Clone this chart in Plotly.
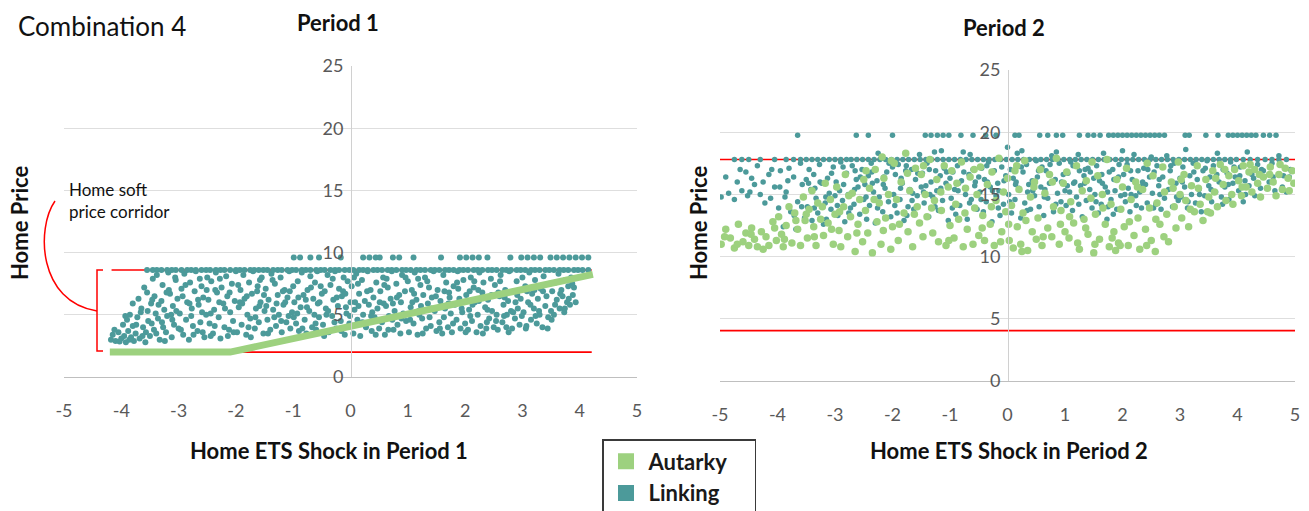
import plotly.graph_objects as go

W, H = 1309, 511

# ---------------- data ----------------
shock_ticks = [-5, -4, -3, -2, -1, 0, 1, 2, 3, 4, 5]
shock_tick_labels = ["-5", "-4", "-3", "-2", "-1", "0", "1", "2", "3", "4", "5"]
price_ticks = [0, 5, 10, 15, 20, 25]

# soft price corridor bounds
p1_corridor = [2.0, 8.6]
p1_corridor_x = [-4.17, 4.21]
p2_corridor = [4.05, 17.8]
p2_corridor_x = [-5.0, 5.0]

# Period 1 autarky price path (floor, then rising with the shock)
p1_autarky_x = [-4.2, -2.1, 4.23]
p1_autarky_y = [2.0, 2.0, 8.25]

# Period 1 linking: scattered outcomes
p1_linking_cloud = [
    (-4.18, 3.0), (-4.15, 3.4), (-4.1, 2.9), (-4.05, 3.6), (-4.0, 3.1), (-3.97, 4.2), (-3.95, 3.3),
    (-3.92, 2.8), (-3.9, 4.6), (-3.88, 3.7), (-3.85, 5.0), (-3.83, 3.2), (-3.8, 4.1), (-3.8, 5.9),
    (-3.78, 2.9), (-3.75, 3.5), (-3.72, 4.8), (-3.7, 6.3), (-3.68, 3.1), (-3.65, 5.5), (-3.62, 4.0),
    (-3.6, 7.2), (-3.58, 2.8), (-3.55, 6.8), (-3.53, 4.5), (-3.5, 3.3), (-3.48, 5.9), (-3.45, 7.9),
    (-3.43, 3.8), (-3.4, 5.1), (-3.42, 6.5), (-3.47, 4.3), (-3.57, 3.6), (-3.66, 5.2),
    (-3.38, 8.2), (-3.36, 4.7), (-3.33, 3.0), (-3.3, 6.1), (-3.28, 7.4), (-3.25, 5.4), (-3.22, 3.6),
    (-3.2, 4.9), (-3.18, 8.4), (-3.15, 6.7), (-3.12, 3.2), (-3.1, 5.7), (-3.08, 4.2), (-3.05, 7.8),
    (-3.02, 6.3), (-3.0, 3.9), (-3.27, 4.0), (-3.13, 5.0), (-3.35, 5.8), (-3.06, 8.0), (-3.17, 7.0),
    (-3.24, 2.9),
    (-2.98, 5.1), (-2.95, 7.1), (-2.92, 3.4), (-2.9, 8.3), (-2.87, 4.6), (-2.85, 6.0), (-2.82, 3.0),
    (-2.8, 7.6), (-2.77, 5.5), (-2.75, 4.1), (-2.72, 6.9), (-2.7, 8.5), (-2.67, 3.7), (-2.65, 5.8),
    (-2.62, 4.4), (-2.6, 7.3), (-2.57, 6.4), (-2.55, 3.2), (-2.52, 5.0), (-2.5, 8.0), (-2.93, 6.5),
    (-2.78, 4.9), (-2.63, 7.9), (-2.58, 3.6),
    (-2.48, 6.2), (-2.46, 4.3), (-2.43, 7.7), (-2.4, 3.5), (-2.38, 5.4), (-2.35, 8.4), (-2.33, 6.8),
    (-2.3, 4.8), (-2.27, 3.1), (-2.25, 7.2), (-2.22, 5.9), (-2.2, 4.0), (-2.17, 8.1), (-2.15, 6.5),
    (-2.12, 3.8), (-2.1, 5.2), (-2.07, 7.5), (-2.05, 4.5), (-2.02, 6.1), (-2.0, 8.5), (-2.44, 5.1),
    (-2.29, 6.0), (-2.14, 3.3), (-2.36, 7.0),
    (-1.98, 3.6), (-1.95, 5.6), (-1.92, 7.0), (-1.9, 4.2), (-1.87, 8.2), (-1.85, 6.3), (-1.82, 3.4),
    (-1.8, 5.0), (-1.77, 7.6), (-1.75, 4.7), (-1.72, 6.7), (-1.7, 8.5), (-1.67, 3.9), (-1.65, 5.5),
    (-1.62, 7.3), (-1.6, 4.4), (-1.57, 6.0), (-1.55, 8.0), (-1.52, 3.5), (-1.5, 5.3), (-1.93, 6.0),
    (-1.78, 4.0), (-1.63, 6.9), (-1.58, 7.8),
    (-1.48, 7.1), (-1.45, 4.6), (-1.43, 6.2), (-1.4, 3.8), (-1.38, 8.3), (-1.35, 5.4), (-1.32, 7.5),
    (-1.3, 4.1), (-1.27, 6.6), (-1.25, 5.0), (-1.22, 8.0), (-1.2, 3.6), (-1.17, 5.8), (-1.15, 7.0),
    (-1.12, 4.4), (-1.1, 6.4), (-1.07, 8.5), (-1.05, 3.9), (-1.02, 5.2), (-1.0, 7.3), (-1.47, 5.7),
    (-1.33, 4.8), (-1.18, 6.9), (-1.08, 4.9),
    (-0.98, 6.0), (-0.95, 4.3), (-0.92, 7.7), (-0.9, 3.7), (-0.87, 5.6), (-0.85, 8.4), (-0.82, 6.6),
    (-0.8, 4.6), (-0.77, 3.5), (-0.75, 7.0), (-0.72, 5.3), (-0.7, 8.1), (-0.67, 4.0), (-0.65, 6.3),
    (-0.62, 7.6), (-0.6, 3.8), (-0.57, 5.9), (-0.55, 4.8), (-0.52, 7.3), (-0.5, 6.7), (-0.93, 5.1),
    (-0.78, 6.2), (-0.63, 5.0), (-0.58, 8.5),
    (-0.48, 4.2), (-0.45, 6.9), (-0.43, 5.5), (-0.4, 8.2), (-0.38, 3.6), (-0.35, 7.4), (-0.32, 4.9),
    (-0.3, 6.2), (-0.27, 8.5), (-0.25, 3.9), (-0.22, 5.7), (-0.2, 7.1), (-0.17, 4.5), (-0.15, 6.5),
    (-0.12, 8.0), (-0.1, 3.4), (-0.07, 5.1), (-0.05, 7.7), (-0.02, 4.3), (0.0, 6.0), (-0.42, 5.0),
    (-0.28, 4.4), (-0.13, 6.9), (-0.08, 5.6),
    (0.02, 7.3), (0.05, 3.5), (0.07, 5.4), (0.1, 8.3), (0.12, 4.6), (0.15, 6.7), (0.17, 3.3),
    (0.2, 7.8), (0.22, 5.0), (0.25, 6.1), (0.27, 4.0), (0.3, 8.5), (0.32, 5.8), (0.35, 7.0),
    (0.37, 3.7), (0.4, 6.4), (0.42, 4.8), (0.45, 7.6), (0.47, 5.5), (0.5, 3.9), (0.08, 6.0),
    (0.23, 4.3), (0.38, 5.2), (0.13, 7.5),
    (0.52, 6.9), (0.55, 4.4), (0.57, 8.0), (0.6, 3.4), (0.62, 5.7), (0.65, 7.2), (0.67, 4.9),
    (0.7, 6.3), (0.72, 8.5), (0.75, 3.8), (0.77, 5.3), (0.8, 7.5), (0.82, 4.2), (0.85, 6.6),
    (0.87, 3.5), (0.9, 8.2), (0.92, 5.1), (0.95, 6.9), (0.97, 4.5), (1.0, 7.7), (0.58, 5.9),
    (0.73, 4.6), (0.88, 6.0), (0.63, 7.9),
    (1.02, 3.6), (1.05, 5.6), (1.07, 7.0), (1.1, 4.3), (1.12, 8.4), (1.15, 6.2), (1.17, 3.4),
    (1.2, 5.0), (1.22, 7.4), (1.25, 4.7), (1.27, 6.6), (1.3, 8.0), (1.32, 3.9), (1.35, 5.9),
    (1.37, 7.2), (1.4, 4.1), (1.42, 6.4), (1.45, 8.5), (1.47, 5.3), (1.5, 3.7), (1.08, 6.0),
    (1.23, 5.7), (1.38, 4.8), (1.18, 7.9),
    (1.52, 7.0), (1.55, 4.4), (1.57, 6.1), (1.6, 3.5), (1.62, 8.2), (1.65, 5.5), (1.67, 7.6),
    (1.7, 4.0), (1.72, 6.8), (1.75, 5.1), (1.77, 3.6), (1.8, 7.3), (1.82, 5.8), (1.85, 4.6),
    (1.87, 8.5), (1.9, 6.3), (1.92, 3.9), (1.95, 5.2), (1.97, 7.8), (2.0, 4.3), (1.58, 5.7),
    (1.73, 6.4), (1.88, 7.1), (1.63, 4.8),
    (2.02, 6.6), (2.05, 3.8), (2.07, 5.4), (2.1, 8.0), (2.12, 4.5), (2.15, 7.2), (2.17, 6.0),
    (2.2, 3.6), (2.22, 5.0), (2.25, 8.4), (2.27, 4.1), (2.3, 6.8), (2.32, 7.6), (2.35, 5.6),
    (2.37, 3.9), (2.4, 6.2), (2.42, 4.7), (2.45, 7.9), (2.47, 5.3), (2.5, 4.0), (2.08, 6.9),
    (2.23, 7.0), (2.38, 4.4), (2.13, 5.8),
    (2.52, 7.4), (2.55, 5.0), (2.57, 3.8), (2.6, 6.5), (2.62, 8.2), (2.65, 4.4), (2.67, 5.8),
    (2.7, 7.0), (2.72, 4.0), (2.75, 6.1), (2.77, 8.5), (2.8, 5.3), (2.82, 3.9), (2.85, 6.9),
    (2.87, 4.7), (2.9, 7.7), (2.92, 5.5), (2.95, 4.2), (2.97, 6.3), (3.0, 8.0), (2.58, 6.8),
    (2.73, 5.0), (2.88, 6.0), (2.68, 4.9),
    (3.02, 5.2), (3.05, 7.3), (3.07, 4.1), (3.1, 6.0), (3.12, 8.4), (3.15, 4.6), (3.17, 6.7),
    (3.2, 5.5), (3.22, 7.8), (3.25, 4.3), (3.27, 6.3), (3.3, 5.0), (3.32, 7.1), (3.35, 4.0),
    (3.37, 8.1), (3.4, 5.7), (3.42, 6.5), (3.45, 4.8), (3.47, 7.5), (3.5, 5.3), (3.08, 6.9),
    (3.23, 4.9),
    (3.52, 6.9), (3.55, 5.0), (3.58, 7.6), (3.6, 6.2), (3.63, 8.3), (3.65, 5.5), (3.68, 7.0),
    (3.7, 6.5), (3.73, 5.2), (3.75, 7.8), (3.78, 6.0), (3.8, 7.3), (3.83, 5.8), (3.85, 8.0),
    (3.88, 6.6), (3.9, 7.2),
    # second pass over the cloud
    (-4.12, 3.8), (-4.03, 2.85), (-3.93, 4.9), (-3.86, 3.0), (-3.74, 4.2), (-3.63, 3.3),
    (-3.54, 5.3), (-3.46, 6.2), (-3.39, 3.5), (-3.29, 4.4), (-3.21, 6.8), (-3.11, 4.6),
    (-3.04, 5.3), (-2.96, 3.8), (-2.88, 7.4), (-2.81, 5.9), (-2.74, 3.4), (-2.66, 6.2),
    (-2.59, 5.2), (-2.51, 7.0), (-2.44, 3.3), (-2.37, 4.1), (-2.28, 7.9), (-2.19, 5.5),
    (-2.11, 6.8), (-2.04, 3.6), (-1.96, 7.4), (-1.89, 5.9), (-1.81, 6.5), (-1.74, 3.2),
    (-1.66, 4.8), (-1.59, 5.7), (-1.51, 6.6), (-1.44, 3.5), (-1.36, 7.8), (-1.29, 5.9),
    (-1.21, 4.5), (-1.14, 6.0), (-1.06, 6.9), (-0.99, 4.8), (-0.91, 6.4), (-0.84, 3.9),
    (-0.76, 5.6), (-0.69, 7.2), (-0.61, 4.3), (-0.54, 6.0), (-0.46, 3.3), (-0.39, 5.3),
    (-0.31, 7.9), (-0.24, 6.4), (-0.16, 3.7), (-0.09, 6.7), (-0.01, 4.9), (0.06, 8.0),
    (0.14, 5.7), (0.21, 4.4), (0.29, 6.9), (0.36, 4.9), (0.44, 3.4), (0.51, 6.0),
    (0.59, 7.4), (0.66, 3.8), (0.74, 5.9), (0.81, 6.4), (0.89, 4.7), (0.96, 8.0),
    (1.04, 4.6), (1.11, 6.7), (1.19, 5.3), (1.26, 3.5), (1.34, 7.7), (1.41, 5.5),
    (1.49, 6.5), (1.56, 3.9), (1.64, 6.9), (1.71, 5.9), (1.79, 4.3), (1.86, 7.6),
    (1.94, 5.5), (2.01, 3.6), (2.09, 4.9), (2.16, 7.7), (2.24, 6.1), (2.31, 3.5),
    (2.39, 5.4), (2.46, 6.6), (2.54, 4.5), (2.61, 7.7), (2.69, 6.4), (2.76, 3.6),
    (2.84, 5.2), (2.91, 6.6), (2.99, 4.9), (3.06, 3.9), (3.14, 5.8), (3.21, 7.0),
    (3.29, 5.3), (3.36, 6.9), (3.44, 3.9), (3.51, 4.6), (3.57, 5.8), (3.66, 6.7),
    (3.74, 5.5), (3.81, 6.3), (3.87, 7.5), (3.93, 6.0),
]
# Period 1 linking outcomes sitting on the corridor ceiling and just above it
p1_linking_cap_price = 8.6
p1_linking_cap_x = [
    -3.55, -3.45, -3.38, -3.3, -3.2, -3.12, -3.05, -2.95, -2.85, -2.78, -2.7, -2.6, -2.52, -2.45,
    -2.35, -2.27, -2.2, -2.1, -2.0, -1.93, -1.85, -1.75, -1.68, -1.6, -1.52, -1.45, -1.35, -1.27,
    -1.2, -1.1, -1.02, -0.95, -0.85, -0.78, -0.7, -0.6, -0.52, -0.45, -0.35, -0.27, -0.2, -0.1,
    -0.02, 0.05, 0.15, 0.22, 0.3, 0.4, 0.47, 0.55, 0.65, 0.72, 0.8, 0.9, 0.97, 1.05, 1.15, 1.22,
    1.3, 1.4, 1.47, 1.55, 1.65, 1.72, 1.8, 1.9, 1.97, 2.05, 2.15, 2.22, 2.3, 2.4, 2.47, 2.55,
    2.65, 2.72, 2.8, 2.9, 2.97, 3.05, 3.15, 3.22, 3.3, 3.4, 3.47, 3.55, 3.65, 3.72, 3.8, 3.9,
    3.97, 4.05, 4.15,
]
p1_linking_top_price = 9.6
p1_linking_top_x = [
    -0.99, -0.88, -0.70, -0.55, -0.17, 0.22, 0.33, 0.44, 0.51, 0.74, 0.85, 1.10, 1.58, 1.91,
    2.02, 2.13, 2.24, 2.39, 2.79, 2.98, 3.09, 3.2, 3.31, 3.49, 3.6, 3.71, 3.82, 3.93, 4.04, 4.15,
]

# Period 2 linking
p2_linking_cloud = [
    (-4.98, 14.8), (-4.85, 15.1), (-4.75, 14.6), (-4.7, 16.0), (-4.62, 15.3), (-4.55, 16.8),
    (-4.52, 14.9), (-4.45, 16.3), (-4.4, 15.8), (-4.35, 17.3), (-4.3, 15.0), (-4.22, 14.3),
    (-4.15, 16.6), (-4.1, 17.0), (-4.05, 15.6),
    (-3.98, 13.9), (-3.95, 16.9), (-3.9, 12.4), (-3.85, 15.2), (-3.8, 17.1), (-3.77, 13.6),
    (-3.72, 16.4), (-3.68, 12.2), (-3.65, 14.4), (-3.6, 17.5), (-3.57, 15.8), (-3.53, 13.1),
    (-3.5, 16.2), (-3.87, 14.8),
    (-3.48, 14.0), (-3.45, 17.0), (-3.42, 15.4), (-3.4, 12.9), (-3.37, 16.6), (-3.33, 14.7),
    (-3.3, 13.5), (-3.27, 17.4), (-3.23, 15.9), (-3.2, 12.6), (-3.17, 14.3), (-3.13, 16.3),
    (-3.1, 15.1), (-3.07, 13.8), (-3.03, 17.2), (-3.0, 14.9), (-3.35, 15.5), (-3.15, 13.0),
    (-2.98, 16.0), (-2.95, 13.3), (-2.92, 15.3), (-2.9, 17.6), (-2.87, 14.5), (-2.83, 12.8),
    (-2.8, 16.7), (-2.77, 15.0), (-2.73, 13.9), (-2.7, 17.3), (-2.67, 14.2), (-2.63, 16.2),
    (-2.6, 15.6), (-2.57, 13.4), (-2.53, 17.0), (-2.5, 14.6), (-2.85, 15.8), (-2.65, 16.9),
    (-2.48, 15.8), (-2.45, 13.0), (-2.42, 16.5), (-2.4, 14.1), (-2.37, 17.5), (-2.33, 15.2),
    (-2.3, 12.7), (-2.27, 16.1), (-2.23, 14.8), (-2.2, 17.9), (-2.17, 13.6), (-2.13, 15.5),
    (-2.1, 16.8), (-2.07, 14.4), (-2.03, 13.2), (-2.0, 17.2), (-2.35, 15.9), (-2.15, 16.4),
    (-2.25, 18.3),
    (-1.98, 15.0), (-1.95, 16.6), (-1.92, 13.5), (-1.9, 17.4), (-1.87, 14.6), (-1.83, 15.9),
    (-1.8, 12.9), (-1.77, 16.9), (-1.73, 14.0), (-1.7, 15.4), (-1.67, 17.0), (-1.63, 13.8),
    (-1.6, 16.2), (-1.57, 14.9), (-1.53, 18.2), (-1.5, 15.6), (-1.85, 16.3), (-1.65, 15.1),
    (-1.75, 13.3),
    (-1.48, 16.7), (-1.45, 14.3), (-1.42, 15.7), (-1.4, 17.5), (-1.37, 13.2), (-1.33, 16.0),
    (-1.3, 14.8), (-1.27, 18.4), (-1.23, 15.3), (-1.2, 13.7), (-1.17, 16.5), (-1.13, 14.5),
    (-1.1, 17.1), (-1.07, 15.9), (-1.03, 12.9), (-1.0, 16.3), (-1.35, 15.0), (-1.15, 18.5),
    (-1.25, 16.9),
    (-0.98, 14.7), (-0.95, 16.8), (-0.92, 15.4), (-0.9, 13.4), (-0.87, 17.3), (-0.83, 14.1),
    (-0.8, 16.1), (-0.77, 18.4), (-0.73, 15.0), (-0.7, 13.0), (-0.67, 16.6), (-0.63, 14.6),
    (-0.6, 17.0), (-0.57, 15.7), (-0.53, 13.8), (-0.5, 16.4), (-0.85, 15.9), (-0.65, 18.2),
    (-0.48, 15.2), (-0.45, 17.1), (-0.42, 13.6), (-0.4, 16.2), (-0.37, 14.4), (-0.33, 17.6),
    (-0.3, 15.6), (-0.27, 12.8), (-0.23, 16.9), (-0.2, 14.9), (-0.17, 15.9), (-0.13, 13.3),
    (-0.1, 17.2), (-0.07, 14.2), (-0.03, 16.5), (0.0, 18.8), (-0.35, 16.0), (-0.15, 15.3),
    (0.02, 15.0), (0.05, 17.0), (0.07, 13.5), (0.1, 16.3), (0.13, 14.6), (0.17, 18.3),
    (0.2, 15.5), (0.23, 13.1), (0.27, 16.8), (0.3, 14.3), (0.33, 17.4), (0.37, 15.8),
    (0.4, 13.8), (0.43, 16.1), (0.47, 14.9), (0.5, 17.7), (0.15, 16.0), (0.35, 15.2),
    (0.25, 18.5),
    (0.52, 16.4), (0.55, 14.0), (0.58, 15.6), (0.6, 17.2), (0.63, 13.3), (0.67, 16.9),
    (0.7, 14.7), (0.73, 15.9), (0.77, 18.1), (0.8, 13.6), (0.83, 16.2), (0.87, 15.1),
    (0.9, 17.5), (0.93, 14.4), (0.97, 16.6), (1.0, 15.3), (0.65, 15.4), (0.85, 18.4),
    (1.02, 14.1), (1.05, 16.7), (1.08, 15.2), (1.1, 17.6), (1.13, 13.7), (1.17, 16.0),
    (1.2, 14.8), (1.23, 18.2), (1.27, 15.7), (1.3, 13.2), (1.33, 16.5), (1.37, 14.5),
    (1.4, 17.1), (1.43, 15.4), (1.47, 13.9), (1.5, 16.3), (1.15, 15.9), (1.35, 17.0),
    (1.25, 16.9),
    (1.52, 15.0), (1.55, 17.3), (1.58, 13.5), (1.6, 16.1), (1.63, 14.2), (1.67, 18.3),
    (1.7, 15.6), (1.73, 13.0), (1.77, 16.8), (1.8, 14.6), (1.83, 17.0), (1.87, 15.3),
    (1.9, 13.8), (1.93, 16.4), (1.97, 14.9), (2.0, 18.5), (1.65, 15.9), (1.85, 16.2),
    (1.75, 14.0),
    (2.02, 16.6), (2.05, 14.4), (2.08, 17.4), (2.1, 15.5), (2.13, 13.6), (2.17, 16.2),
    (2.2, 18.2), (2.23, 14.9), (2.27, 16.9), (2.3, 15.2), (2.33, 13.9), (2.37, 17.1),
    (2.4, 15.8), (2.43, 14.3), (2.47, 16.4), (2.5, 18.0), (2.15, 15.0), (2.35, 16.0),
    (2.52, 15.1), (2.55, 16.8), (2.58, 14.2), (2.6, 17.3), (2.63, 15.7), (2.67, 13.8),
    (2.7, 16.4), (2.73, 14.7), (2.77, 18.1), (2.8, 15.4), (2.83, 16.9), (2.87, 14.0),
    (2.9, 17.5), (2.93, 15.9), (2.97, 14.5), (3.0, 16.3), (2.65, 15.0), (2.85, 16.0),
    (3.02, 14.8), (3.05, 17.2), (3.08, 15.6), (3.1, 18.6), (3.13, 13.9), (3.17, 16.5),
    (3.2, 15.0), (3.23, 17.5), (3.27, 14.3), (3.3, 16.2), (3.33, 15.4), (3.37, 13.6),
    (3.4, 16.9), (3.43, 14.9), (3.47, 17.7), (3.5, 15.7),
    (3.52, 16.4), (3.55, 14.4), (3.58, 17.3), (3.62, 15.2), (3.65, 18.3), (3.68, 16.0),
    (3.72, 14.8), (3.75, 17.0), (3.78, 15.6), (3.82, 16.7), (3.85, 14.6), (3.88, 17.6),
    (3.92, 15.9), (3.96, 16.4),
    (4.02, 15.3), (4.05, 17.2), (4.1, 14.4), (4.13, 16.1), (4.17, 18.4), (4.2, 15.7),
    (4.25, 16.6), (4.3, 14.9), (4.35, 17.4), (4.4, 15.5), (4.45, 16.9),
    (4.55, 16.0), (4.6, 17.5), (4.65, 15.3), (4.72, 18.1), (4.8, 16.5), (4.85, 15.2),
    (4.92, 17.0),
    # second pass over the cloud
    (-4.9, 16.4), (-4.65, 17.0), (-4.48, 15.2), (-4.25, 16.0), (-4.12, 14.7), (-3.96, 15.6),
    (-3.82, 16.1), (-3.71, 13.3), (-3.58, 14.0), (-3.46, 15.9), (-3.36, 13.9), (-3.26, 16.0),
    (-3.16, 14.8), (-3.06, 16.7), (-2.96, 14.1), (-2.86, 17.2), (-2.76, 13.5), (-2.66, 15.4),
    (-2.56, 16.4), (-2.46, 14.8), (-2.36, 16.8), (-2.26, 13.9), (-2.16, 15.8), (-2.06, 17.5),
    (-1.96, 14.1), (-1.86, 15.5), (-1.76, 17.3), (-1.66, 14.5), (-1.56, 16.7), (-1.46, 15.2),
    (-1.36, 17.0), (-1.26, 14.0), (-1.16, 15.5), (-1.06, 16.8), (-0.96, 13.9), (-0.86, 15.3),
    (-0.76, 16.8), (-0.66, 14.3), (-0.56, 16.0), (-0.46, 14.6), (-0.36, 17.3), (-0.26, 15.3),
    (-0.16, 13.9), (-0.06, 16.1), (0.04, 14.4), (0.14, 15.8), (0.24, 17.2), (0.34, 13.7),
    (0.44, 15.3), (0.54, 16.9), (0.64, 14.8), (0.74, 17.4), (0.84, 14.2), (0.94, 16.0),
    (1.04, 15.7), (1.14, 17.3), (1.24, 14.2), (1.34, 15.9), (1.44, 16.8), (1.54, 14.4),
    (1.64, 16.6), (1.74, 15.2), (1.84, 13.4), (1.94, 17.4), (2.04, 15.0), (2.14, 16.9),
    (2.24, 14.1), (2.34, 15.7), (2.44, 17.0), (2.54, 13.9), (2.64, 16.2), (2.74, 15.2),
    (2.84, 17.3), (2.94, 14.8), (3.04, 16.0), (3.14, 14.4), (3.24, 16.8), (3.34, 15.0),
    (3.44, 17.1), (3.54, 15.4), (3.64, 16.6), (3.74, 14.2), (3.84, 15.8), (3.94, 17.2),
    (4.04, 16.5), (4.14, 15.0), (4.28, 16.3), (4.42, 17.0), (4.62, 16.4), (4.78, 15.6),
    (4.9, 16.4),
]
p2_linking_cap_price = 17.8
p2_linking_cap_x = [
    -4.75, -4.62, -4.5, -4.3, -4.05, -3.85, -3.72, -3.6, -3.5, -3.4, -3.3, -3.2, -3.1, -3.0,
    -2.9, -2.8, -2.72, -2.62, -2.52, -2.42, -2.32, -2.22, -2.12, -2.02, -1.92, -1.82, -1.72,
    -1.62, -1.52, -1.42, -1.32, -1.22, -1.12, -1.02, -0.92, -0.82, -0.72, -0.62, -0.52, -0.42,
    -0.32, -0.22, -0.12, -0.02, 0.08, 0.18, 0.28, 0.38, 0.48, 0.58, 0.68, 0.78, 0.88, 0.98,
    1.08, 1.18, 1.28, 1.38, 1.48, 1.58, 1.68, 1.78, 1.88, 1.98, 2.08, 2.18, 2.28, 2.38, 2.48,
    2.58, 2.68, 2.78, 2.88, 2.98, 3.08, 3.18, 3.28, 3.38, 3.48, 3.58, 3.68, 3.78, 3.88, 3.98,
    4.1, 4.22, 4.35, 4.48, 4.6, 4.72, 4.85,
]
p2_linking_top_price = 19.75
p2_linking_top_x = [
    -3.65, -2.63, -2.42, -2.0, -1.43, -1.33, -1.22, -1.12, -1.02, -0.81, -0.6, -0.38, -0.2,
    0.13, 0.2, 0.56, 0.7, 0.85, 0.96, 1.25, 1.4, 1.5, 1.61, 1.76, 1.84, 1.92, 2.0, 2.08, 2.16,
    2.24, 2.32, 2.4, 2.48, 2.56, 2.64, 2.73, 3.09, 3.16, 3.45, 3.66, 3.84, 3.92, 4.0, 4.08,
    4.16, 4.24, 4.32, 4.45, 4.56, 4.67,
]

# Period 2 autarky
p2_autarky_cloud = [
    (-4.98, 11.0), (-4.9, 12.2), (-4.82, 11.5), (-4.75, 10.7), (-4.68, 12.6), (-4.6, 11.2),
    (-4.55, 11.9), (-4.5, 10.9), (-4.45, 12.3), (-4.4, 11.4), (-4.35, 10.8), (-4.28, 12.0),
    (-4.2, 11.6), (-4.15, 10.9), (-4.08, 12.8), (-4.02, 11.3),
    (-3.98, 13.2), (-3.93, 11.8), (-3.9, 10.8), (-3.85, 12.5), (-3.8, 14.0), (-3.75, 11.1),
    (-3.7, 13.5), (-3.65, 12.2), (-3.6, 10.9), (-3.55, 14.8), (-3.52, 12.9),
    (-3.48, 11.5), (-3.45, 13.8), (-3.4, 15.3), (-3.37, 12.4), (-3.33, 10.9), (-3.3, 14.3),
    (-3.25, 13.0), (-3.2, 11.7), (-3.17, 15.9), (-3.12, 12.7), (-3.08, 14.6), (-3.03, 11.0),
    (-3.0, 13.4),
    (-2.97, 15.6), (-2.93, 12.1), (-2.9, 10.8), (-2.85, 14.0), (-2.82, 16.6), (-2.78, 11.6),
    (-2.73, 13.2), (-2.7, 15.1), (-2.65, 10.4), (-2.6, 12.6), (-2.57, 14.6), (-2.52, 11.2),
    (-2.5, 16.2),
    (-2.47, 13.7), (-2.43, 11.9), (-2.4, 15.5), (-2.35, 10.3), (-2.3, 17.0), (-2.27, 12.8),
    (-2.23, 14.3), (-2.2, 11.0), (-2.15, 16.3), (-2.12, 13.1), (-2.07, 15.0), (-2.03, 10.6),
    (-2.0, 12.4), (-2.18, 18.0),
    (-1.97, 17.5), (-1.93, 14.6), (-1.9, 11.3), (-1.85, 16.0), (-1.8, 13.5), (-1.77, 18.3),
    (-1.73, 12.0), (-1.7, 15.3), (-1.65, 10.8), (-1.6, 17.1), (-1.57, 14.0), (-1.53, 12.7),
    (-1.5, 16.6),
    (-1.47, 11.6), (-1.43, 15.0), (-1.4, 13.2), (-1.35, 17.8), (-1.3, 11.9), (-1.27, 14.5),
    (-1.23, 16.2), (-1.2, 11.2), (-1.15, 13.7), (-1.1, 17.3), (-1.07, 10.9), (-1.03, 15.6),
    (-1.0, 12.5),
    (-0.97, 16.9), (-0.93, 11.5), (-0.9, 14.2), (-0.85, 13.0), (-0.8, 17.6), (-0.77, 10.8),
    (-0.73, 15.5), (-0.7, 12.2), (-0.65, 16.4), (-0.6, 11.0), (-0.57, 13.9), (-0.53, 15.0),
    (-0.5, 11.7),
    (-0.47, 17.2), (-0.43, 13.3), (-0.4, 11.3), (-0.35, 15.8), (-0.3, 12.6), (-0.27, 16.8),
    (-0.23, 10.9), (-0.2, 14.5), (-0.15, 17.9), (-0.1, 12.0), (-0.07, 15.2), (-0.03, 13.6),
    (0.0, 16.3),
    (0.03, 11.3), (0.07, 14.1), (0.1, 10.7), (0.13, 16.9), (0.17, 12.4), (0.2, 15.4),
    (0.23, 11.0), (0.27, 13.5), (0.3, 17.7), (0.35, 10.5), (0.4, 14.8), (0.43, 12.0),
    (0.47, 16.0), (0.5, 11.4), (0.25, 10.4),
    (0.53, 13.1), (0.57, 17.0), (0.6, 10.9), (0.65, 15.1), (0.7, 12.3), (0.73, 16.6),
    (0.77, 11.6), (0.8, 14.0), (0.85, 17.9), (0.9, 11.0), (0.93, 13.7), (0.97, 15.9),
    (1.0, 12.0),
    (1.03, 16.8), (1.07, 11.5), (1.1, 14.4), (1.15, 12.7), (1.2, 17.3), (1.25, 10.6),
    (1.3, 15.3), (1.33, 13.0), (1.37, 16.1), (1.4, 11.8), (1.45, 14.7), (1.5, 10.3),
    (1.47, 17.6),
    (1.53, 13.4), (1.57, 16.5), (1.6, 11.4), (1.65, 15.0), (1.7, 12.6), (1.73, 17.8),
    (1.77, 10.8), (1.8, 14.2), (1.85, 12.0), (1.9, 16.2), (1.93, 11.1), (1.97, 13.8),
    (2.0, 15.6), (1.88, 10.5),
    (2.03, 12.4), (2.07, 17.1), (2.1, 10.9), (2.15, 14.6), (2.2, 11.7), (2.23, 16.0),
    (2.27, 13.1), (2.3, 10.6), (2.35, 15.4), (2.4, 12.2), (2.43, 17.5), (2.47, 13.9),
    (2.5, 11.3),
    (2.53, 16.5), (2.57, 10.4), (2.6, 14.3), (2.65, 12.6), (2.7, 17.2), (2.73, 15.2),
    (2.77, 13.4), (2.8, 11.2), (2.85, 16.0), (2.9, 14.0), (2.93, 12.3), (2.97, 17.6),
    (3.0, 15.0),
    (3.03, 13.1), (3.07, 16.6), (3.1, 14.5), (3.15, 12.4), (3.2, 15.7), (3.25, 13.6),
    (3.3, 17.3), (3.35, 14.2), (3.4, 12.9), (3.45, 16.2), (3.5, 14.8),
    (3.53, 13.5), (3.57, 16.9), (3.6, 15.2), (3.65, 14.0), (3.7, 17.4), (3.75, 15.8),
    (3.8, 14.5), (3.85, 16.5), (3.9, 15.0), (3.95, 17.0),
    (4.02, 16.1), (4.07, 14.9), (4.1, 17.3), (4.15, 15.6), (4.2, 16.8), (4.25, 15.2),
    (4.3, 17.0), (4.35, 15.9), (4.4, 14.8), (4.45, 16.4),
    (4.52, 15.5), (4.57, 17.2), (4.62, 16.0), (4.67, 14.9), (4.72, 16.6), (4.78, 15.4),
    (4.83, 17.1), (4.88, 16.3), (4.95, 16.9), (4.98, 15.9),
    # second pass over the cloud
    (-4.92, 11.6), (-4.7, 11.0), (-4.46, 11.8), (-4.25, 10.6), (-4.05, 12.3), (-3.88, 11.4),
    (-3.68, 12.9), (-3.5, 13.4), (-3.36, 11.6), (-3.22, 14.0), (-3.06, 12.2), (-2.92, 13.6),
    (-2.76, 14.9), (-2.62, 11.9), (-2.46, 16.9), (-2.32, 14.6), (-2.16, 12.1), (-2.02, 17.7),
    (-1.88, 12.6), (-1.74, 16.7), (-1.62, 13.4), (-1.46, 17.3), (-1.32, 13.9), (-1.16, 15.2),
    (-1.02, 11.3), (-0.88, 15.9), (-0.74, 13.5), (-0.58, 17.0), (-0.44, 12.3), (-0.28, 14.0),
    (-0.12, 11.2), (0.02, 12.6), (0.16, 17.3), (0.32, 12.9), (0.46, 15.6), (0.62, 11.6),
    (0.78, 16.0), (0.92, 12.6), (1.08, 13.2), (1.22, 11.1), (1.36, 12.3), (1.52, 11.0),
    (1.66, 13.9), (1.82, 11.5), (1.96, 10.9), (2.12, 12.8), (2.26, 15.6), (2.42, 10.9),
    (2.58, 13.0), (2.72, 11.6), (2.88, 15.5), (3.02, 16.2), (3.18, 13.8), (3.32, 15.5),
    (3.48, 13.6), (3.62, 16.3), (3.78, 17.0), (3.92, 14.2), (4.08, 15.6), (4.22, 17.4),
    (4.38, 16.6), (4.56, 16.6), (4.74, 17.4), (4.9, 15.3),
]

# ---------------- styling ----------------
GREEN = "#9DD17F"
TEAL = "#4C9A9A"
RED = "#FF0000"
GRID = "#DEDEDE"
TICK = "#595959"
INK = "#111111"
FONT = "Lato"
PAD = "\u00a0" * 4  # extra room on the right of legend labels


def px(x):
    return x / W


def py(y):
    return 1 - y / H


def linking_xy(cloud, cap_price, cap_x, top_price, top_x):
    xs = [p[0] for p in cloud] + list(cap_x) + list(top_x)
    ys = [p[1] for p in cloud] + [cap_price] * len(cap_x) + [top_price] * len(top_x)
    return xs, ys


fig = go.Figure()

# corridor bounds
for xa, ya, xs, bounds in (("x", "y", p1_corridor_x, p1_corridor),
                           ("x2", "y2", p2_corridor_x, p2_corridor)):
    for b in bounds:
        fig.add_trace(go.Scatter(x=xs, y=[b, b], mode="lines", xaxis=xa, yaxis=ya,
                                 line=dict(color=RED, width=1.6), showlegend=False,
                                 hoverinfo="skip"))

# Period 1
lx, ly = linking_xy(p1_linking_cloud, p1_linking_cap_price, p1_linking_cap_x,
                    p1_linking_top_price, p1_linking_top_x)
fig.add_trace(go.Scatter(x=lx, y=ly, mode="markers", xaxis="x", yaxis="y",
                         marker=dict(color=TEAL, size=6), showlegend=False, name="Linking"))
fig.add_trace(go.Scatter(x=p1_autarky_x, y=p1_autarky_y, mode="lines", xaxis="x", yaxis="y",
                         line=dict(color=GREEN, width=7), showlegend=False, name="Autarky"))

# Period 2
lx, ly = linking_xy(p2_linking_cloud, p2_linking_cap_price, p2_linking_cap_x,
                    p2_linking_top_price, p2_linking_top_x)
fig.add_trace(go.Scatter(x=lx, y=ly, mode="markers", xaxis="x2", yaxis="y2",
                         marker=dict(color=TEAL, size=5.5), showlegend=False, name="Linking"))
fig.add_trace(go.Scatter(x=[p[0] for p in p2_autarky_cloud], y=[p[1] for p in p2_autarky_cloud],
                         mode="markers", xaxis="x2", yaxis="y2",
                         marker=dict(color=GREEN, size=7.5), showlegend=False, name="Autarky"))

# legend entries
for name, col in (("Autarky", GREEN), ("Linking", TEAL)):
    fig.add_trace(go.Scatter(x=[None], y=[None], mode="markers", name=name + PAD,
                             marker=dict(color=col, size=18, symbol="square"),
                             xaxis="x", yaxis="y", showlegend=True))

tickfont = dict(family=FONT, size=18, color=TICK)
xcommon = dict(range=[-5, 5], tickvals=shock_ticks, ticktext=shock_tick_labels,
               ticks="outside", ticklen=17, tickcolor="rgba(0,0,0,0)", showgrid=False,
               zeroline=False, showline=False, tickfont=tickfont, fixedrange=True)
ycommon = dict(range=[0, 25], tickvals=price_ticks, ticks="outside", ticklen=4,
               tickcolor="rgba(0,0,0,0)", showgrid=True, gridcolor=GRID, gridwidth=1,
               zeroline=True, zerolinecolor="#BFBFBF", zerolinewidth=1,
               showline=True, linecolor="#D0D0D0", linewidth=1, anchor="free",
               tickfont=tickfont, fixedrange=True)

fig.update_layout(
    width=W, height=H,
    margin=dict(l=0, r=0, t=0, b=0, autoexpand=False),
    paper_bgcolor="white", plot_bgcolor="white",
    font=dict(family=FONT),
    xaxis=dict(domain=[px(64), px(637)], anchor="y", **xcommon),
    yaxis=dict(domain=[py(377), py(66)], position=px(351), **ycommon),
    xaxis2=dict(domain=[px(720), px(1295)], anchor="y2", **xcommon),
    yaxis2=dict(domain=[py(381), py(70)], position=px(1008), **ycommon),
    legend=dict(x=px(602), y=py(439), xanchor="left", yanchor="top",
                bordercolor="#3A3A3A", borderwidth=1.5, bgcolor="white",
                font=dict(family=FONT, size=22, color="#1A1A1A", weight="bold"),
                itemsizing="trace", itemwidth=35, tracegroupgap=0),
    showlegend=True,
)

annotations = [
    dict(text="Combination 4", x=px(16), y=py(26), xanchor="left", yanchor="middle",
         font=dict(family=FONT, size=26, color=INK)),
    dict(text="<b>Period 1</b>", x=px(338), y=py(22), xanchor="center", yanchor="middle",
         font=dict(family=FONT, size=22, color=INK)),
    dict(text="<b>Period 2</b>", x=px(1004), y=py(27), xanchor="center", yanchor="middle",
         font=dict(family=FONT, size=22, color=INK)),
    dict(text="<b>Home Price</b>", x=px(19), y=py(223), xanchor="center", yanchor="middle",
         textangle=-90, font=dict(family=FONT, size=22, color=INK)),
    dict(text="<b>Home Price</b>", x=px(698), y=py(223), xanchor="center", yanchor="middle",
         textangle=-90, font=dict(family=FONT, size=22, color=INK)),
    dict(text="<b>Home ETS Shock in Period 1</b>", x=px(329), y=py(450), xanchor="center",
         yanchor="middle", font=dict(family=FONT, size=22, color=INK)),
    dict(text="<b>Home ETS Shock in Period 2</b>", x=px(1009), y=py(450), xanchor="center",
         yanchor="middle", font=dict(family=FONT, size=22, color=INK)),
    dict(text="Home soft<br>price corridor", x=px(67), y=py(201), xanchor="left",
         yanchor="middle", align="left", font=dict(family=FONT, size=17, color=INK)),
]
for a in annotations:
    a.update(xref="paper", yref="paper", showarrow=False)
fig.update_layout(annotations=annotations)

# bracket around the Period 1 corridor and the connector to its label
bx, btop, bbot, bmid = 97, 270, 351, 311
bracket = (f"M {px(bx + 6)},{py(btop)} L {px(bx)},{py(btop)} L {px(bx)},{py(bbot)} "
           f"L {px(bx + 6)},{py(bbot)}")
connector = (f"M {px(bx)},{py(bmid)} C {px(38)},{py(302)} {px(36)},{py(228)} "
             f"{px(55)},{py(201)}")
fig.update_layout(shapes=[
    dict(type="path", path=bracket, xref="paper", yref="paper",
         line=dict(color=RED, width=1.5)),
    dict(type="path", path=connector, xref="paper", yref="paper",
         line=dict(color=RED, width=1.5)),
])

fig.write_html("out.html")
